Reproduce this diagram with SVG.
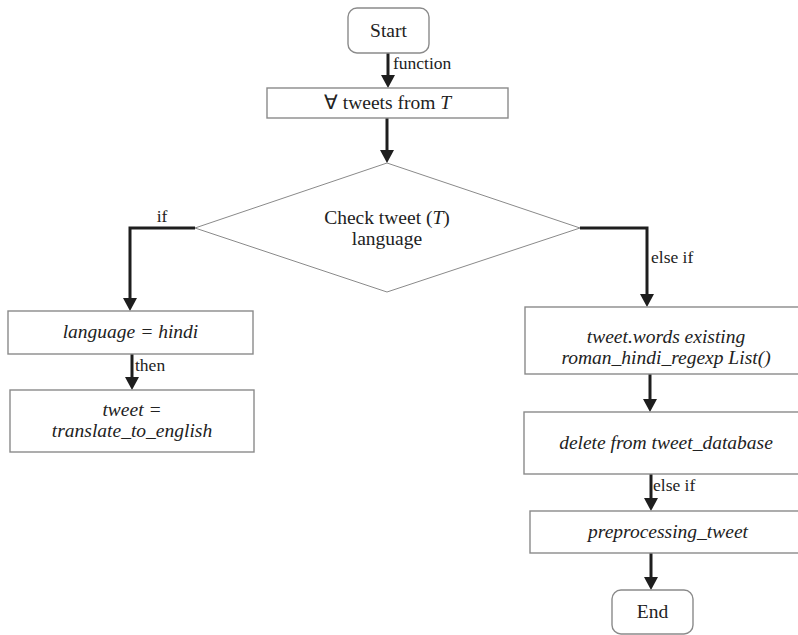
<svg xmlns="http://www.w3.org/2000/svg" width="798" height="635" viewBox="0 0 798 635">
  <defs>
    <marker id="arrow" viewBox="0 0 13 14" refX="2" refY="7" markerWidth="13" markerHeight="14" markerUnits="userSpaceOnUse" orient="auto">
      <path d="M0,0 L13,7 L0,14 z" fill="#1e1e1e"/>
    </marker>
  </defs>
  <style>
    .box { fill: #ffffff; stroke: #8a8a8a; stroke-width: 1.4; }
    .diamond { fill: #ffffff; stroke: #8a8a8a; stroke-width: 1; }
    .txt { font-family: "Liberation Serif", "Times New Roman", serif; font-size: 19.5px; fill: #222222; }
    .it { font-style: italic; }
    .mid { text-anchor: middle; }
    .lbl { font-family: "Liberation Serif", "Times New Roman", serif; font-size: 17.5px; fill: #222222; }
    .conn { fill: none; stroke: #1e1e1e; stroke-width: 3; marker-end: url(#arrow); }
  </style>
  <rect width="798" height="635" fill="#ffffff"/>

  <!-- connectors -->
  <g id="connectors">
    <path class="conn" d="M388,53 V77"/>
    <path class="conn" d="M387,118 V152"/>
    <path class="conn" d="M195,228 H130 V300"/>
    <path class="conn" d="M132,354 V379"/>
    <path class="conn" d="M580,228 H647 V296"/>
    <path class="conn" d="M650,374 V401"/>
    <path class="conn" d="M651,474 V500"/>
    <path class="conn" d="M651,553 V579"/>
    <text class="lbl" x="393" y="69">function</text>
    <text class="lbl mid" x="162" y="222">if</text>
    <text class="lbl" x="135" y="371">then</text>
    <text class="lbl" x="651" y="263">else if</text>
    <text class="lbl" x="653" y="491">else if</text>
  </g>

  <!-- nodes -->
  <g id="start">
    <rect class="box" x="348" y="8" width="81" height="45" rx="9"/>
    <text class="txt mid" x="388.5" y="37">Start</text>
  </g>
  <g id="for-all">
    <rect class="box" x="267" y="88" width="241" height="30"/>
    <text class="txt mid" x="387.5" y="109">∀ tweets from <tspan class="it">T</tspan></text>
  </g>
  <g id="check-language">
    <polygon class="diamond" points="387,163 580,228 387,292 195,228"/>
    <text class="txt mid" x="387" y="224">Check tweet (<tspan class="it">T</tspan>)</text>
    <text class="txt mid" x="387" y="245">language</text>
  </g>
  <g id="is-hindi">
    <rect class="box" x="8" y="311" width="245" height="43"/>
    <text class="txt it mid" x="130.5" y="338">language = hindi</text>
  </g>
  <g id="translate">
    <rect class="box" x="10" y="390" width="244" height="62"/>
    <text class="txt it mid" x="132" y="416">tweet =</text>
    <text class="txt it mid" x="132" y="437">translate_to_english</text>
  </g>
  <g id="roman-hindi">
    <rect class="box" x="525" y="307" width="283" height="67"/>
    <text class="txt it mid" x="666" y="343">tweet.words existing</text>
    <text class="txt it mid" x="666" y="364">roman_hindi_regexp List()</text>
  </g>
  <g id="delete">
    <rect class="box" x="524" y="412" width="284" height="62"/>
    <text class="txt it mid" x="666" y="449">delete from tweet_database</text>
  </g>
  <g id="preprocess">
    <rect class="box" x="530" y="511" width="278" height="42"/>
    <text class="txt it mid" x="668" y="538">preprocessing_tweet</text>
  </g>
  <g id="end">
    <rect class="box" x="612" y="590" width="81" height="44" rx="9"/>
    <text class="txt mid" x="652.5" y="618">End</text>
  </g>
</svg>
